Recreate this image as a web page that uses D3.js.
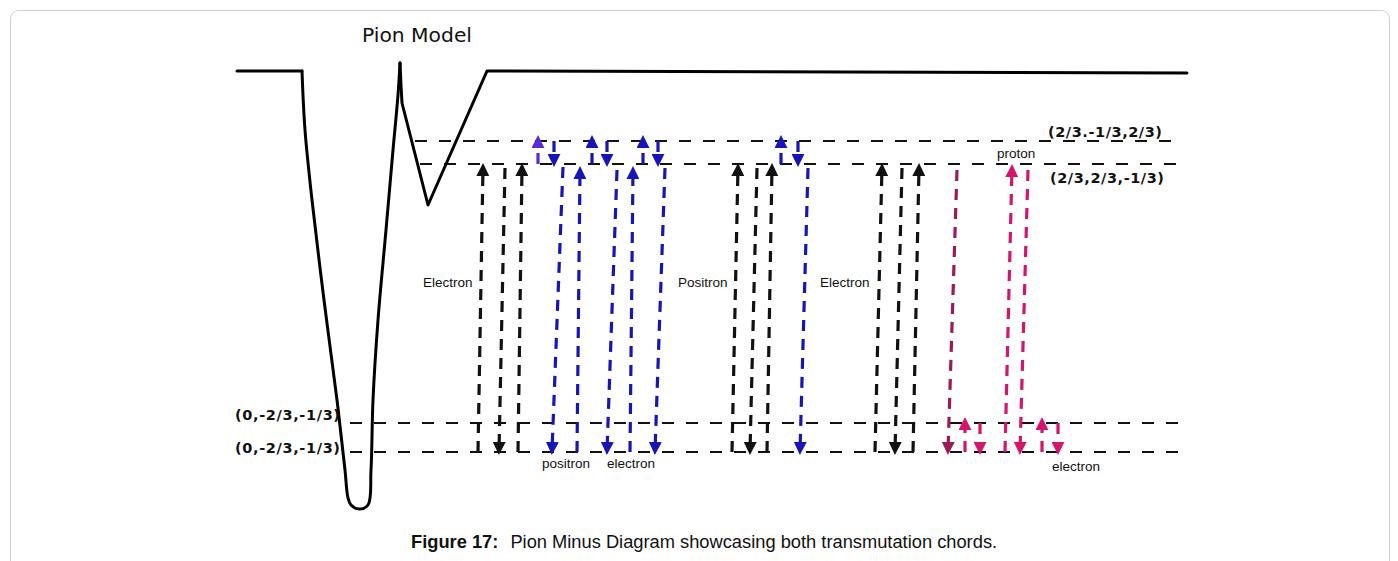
<!DOCTYPE html>
<html><head><meta charset="utf-8">
<script src="https://cdn.jsdelivr.net/npm/d3@7"></script>
<style>html,body{margin:0;padding:0;background:#fff;} svg{display:block}</style>
</head><body>
<svg id="c" width="1398" height="561"></svg>
<script>
// ---------- DATA (schematic units: x = position, e = energy) ----------
const titleText = "Pion Model";
const captionBold = "Figure 17:";
const captionText = "Pion Minus Diagram showcasing both transmutation chords.";

// potential curve pieces [position, energy]
const leftFlat = [[0,38.1],[6.5,38.1]];
const wellCurve = [[6.5,38.1],[6.8,32.2],[7.5,25.2],[8.7,15.2],[10.0,5.2],[10.8,-1.8],[11.1,-4.6],
  [11.4,-5.3],[12.2,-5.7],[13.1,-5.3],[13.4,-1.8],[13.6,5.2],[14.1,13.2],[14.9,22.2],[15.6,30.2],[16.1,35.7],[16.3,38.9]];
const barrier = [[16.3,38.9],[16.4,36.7],[16.5,34.9],[19.1,24.7],[25.0,38.1],[95,37.9]];

// energy levels
const levelNames = ["A","B","C","D"];
const levelEnergy = [31.1, 28.8, 2.9, 0.0];
const levelFrom   = [17.8, 18.3, 11.3, 11.3];
const levelTo     = [94.0, 95.0, 95.0, 95.0];

// level labels
const levelLabelText = ["(2/3.-1/3,2/3)", "(2/3,2/3,-1/3)", "(0,-2/3,-1/3)", "(0,-2/3,-1/3)"];
const levelLabelPos  = [81.1, 81.3, -0.2, -0.2];
const levelLabelE    = [31.5, 26.9, 3.2, -0.1];

// long chords: top position, bottom position, top energy, bottom energy, direction, kind
const chordTopX = [24.6,26.8,28.5, 50.1,52.0,53.5, 64.5,66.5,68.2, 32.6,34.3,38.0,39.6,42.8,57.1, 72.0, 77.5,79.1];
const chordBotX = [24.1,26.2,28.1, 49.5,51.3,53.0, 63.8,65.8,67.6, 31.5,34.0,37.0,39.3,41.8,56.3, 71.1, 76.8,78.3];
const chordTopE = [28.5,28.4,28.5, 28.5,28.4,28.5, 28.5,28.4,28.5, 28.5,28.2,28.2,28.2,28.4,28.4, 28.2, 28.4,28.2];
const chordBotE = [0,0.1,0, 0,0.1,0, 0,0.1,0, 0.1,0,0.1,0,0.1,0.1, 0.1, 0,0.1];
const chordDir  = ["up","down","up", "up","down","up", "up","down","up", "down","up","down","up","down","down", "down", "up","down"];
const chordKind = ["black","black","black","black","black","black","black","black","black",
  "blue","blue","blue","blue","blue","blue","plum","magenta","magenta"];

// short transitions between the two upper levels
const topShortX    = [30.1, 31.7, 35.5, 37.0, 40.6, 42.1, 54.4, 56.1];
const topShortDir  = ["up","down","up","down","up","down","up","down"];
const topShortKind = ["violet","blue","blue","blue","blue","blue","blue","blue"];

// short transitions between the two lower levels
const botShortX    = [72.8, 74.3, 80.5, 82.1];
const botShortDir  = ["up","down","up","down"];

// particle notes
const noteText = ["Electron","Positron","Electron","positron","electron","proton","electron"];
const notePos  = [18.6, 44.1, 58.3, 30.5, 37.0, 76.0, 81.5];
const noteE    = [16.5, 16.5, 16.5, -1.6, -1.6, 29.4, -1.9];

// ---------- DRAWING ----------
const svg = d3.select("#c");
const x = d3.scaleLinear().domain([0, 95]).range([237, 1187]);
const y = d3.scaleLinear().domain([0, 38.1]).range([452, 71]);
const colour = d3.scaleOrdinal()
  .domain(["black","blue","violet","plum","magenta"])
  .range(["#111111","#1616b8","#5a2ad8","#9c1a5c","#d4156c"]);

// frame
svg.append("rect").attr("x",10.5).attr("y",10.5).attr("width",1379).attr("height",620)
  .attr("rx",8).attr("fill","none").attr("stroke","#cfcfcf").attr("stroke-width",1);

// markers
const defs = svg.append("defs");
colour.domain().forEach(k => {
  defs.append("marker").attr("id","head-"+k)
    .attr("viewBox","0 0 10 10").attr("refX",7).attr("refY",5)
    .attr("markerWidth",13).attr("markerHeight",13)
    .attr("markerUnits","userSpaceOnUse").attr("orient","auto")
    .append("path").attr("d","M0,0 L10,5 L0,10 Z").attr("fill",colour(k));
});

// levels
svg.append("g").selectAll("line").data(levelNames).join("line")
  .attr("x1",(d,i)=>x(levelFrom[i])).attr("x2",(d,i)=>x(levelTo[i]))
  .attr("y1",(d,i)=>y(levelEnergy[i])).attr("y2",(d,i)=>y(levelEnergy[i]))
  .attr("stroke","#111").attr("stroke-width",2).attr("stroke-dasharray","12,12");

// potential curve
const lin = d3.line().x(d=>x(d[0])).y(d=>y(d[1]));
const cur = d3.line().x(d=>x(d[0])).y(d=>y(d[1])).curve(d3.curveCatmullRom.alpha(0.5));
const pg = svg.append("g").attr("fill","none").attr("stroke","#000").attr("stroke-width",3)
  .attr("stroke-linejoin","round").attr("stroke-linecap","round");
pg.append("path").attr("d",lin(leftFlat));
pg.append("path").attr("d",cur(wellCurve));
pg.append("path").attr("d",lin(barrier));

// arrows helper
function arrowLines(g, rows) {
  g.selectAll("line").data(rows).join("line")
    .attr("x1",d=>x(d.sx)).attr("y1",d=>y(d.se))
    .attr("x2",d=>x(d.ex)).attr("y2",d=>y(d.ee))
    .attr("stroke",d=>colour(d.kind)).attr("stroke-width",3.2)
    .attr("stroke-dasharray","11,8")
    .attr("marker-end",d=>"url(#head-"+d.kind+")");
}

const longRows = chordTopX.map((t,i)=>{
  const up = chordDir[i]==="up";
  return up ? {sx:chordBotX[i], se:chordBotE[i], ex:t, ee:chordTopE[i], kind:chordKind[i]}
            : {sx:t, se:chordTopE[i], ex:chordBotX[i], ee:chordBotE[i], kind:chordKind[i]};
});
arrowLines(svg.append("g"), longRows);

const topRows = topShortX.map((p,i)=> topShortDir[i]==="up"
  ? {sx:p, se:levelEnergy[1], ex:p, ee:levelEnergy[0]+0.2, kind:topShortKind[i]}
  : {sx:p, se:levelEnergy[0], ex:p, ee:levelEnergy[1]+0.1, kind:topShortKind[i]});
arrowLines(svg.append("g"), topRows);

const botRows = botShortX.map((p,i)=> botShortDir[i]==="up"
  ? {sx:p, se:levelEnergy[3], ex:p, ee:levelEnergy[2]+0.2, kind:"magenta"}
  : {sx:p, se:levelEnergy[2], ex:p, ee:levelEnergy[3]+0.1, kind:"magenta"});
arrowLines(svg.append("g"), botRows);

// level labels
svg.append("g").selectAll("text").data(levelLabelText).join("text")
  .attr("x",(d,i)=>x(levelLabelPos[i])).attr("y",(d,i)=>y(levelLabelE[i]))
  .attr("font-family","DejaVu Sans").attr("font-weight","bold").attr("font-size",14.5)
  .attr("textLength",(d,i)=> i<2 ? 114 : 105).attr("lengthAdjust","spacing")
  .attr("fill","#111").text(d=>d);

// notes
svg.append("g").selectAll("text").data(noteText).join("text")
  .attr("x",(d,i)=>x(notePos[i])).attr("y",(d,i)=>y(noteE[i]))
  .attr("font-family","Liberation Sans, Arial, sans-serif").attr("font-size",13.5)
  .attr("fill","#111").text(d=>d);

// title
svg.append("text").attr("x",362).attr("y",42)
  .attr("font-family","DejaVu Sans").attr("font-size",19).attr("fill","#111")
  .attr("textLength",110).attr("lengthAdjust","spacingAndGlyphs").text(titleText);

// caption
const cap = svg.append("text").attr("x",411).attr("y",548)
  .attr("font-family","Liberation Sans, Arial, sans-serif").attr("font-size",18.3).attr("fill","#111");
cap.append("tspan").attr("font-weight","bold").text(captionBold);
cap.append("tspan").attr("dx",12).text(captionText);
</script>
</body></html>
